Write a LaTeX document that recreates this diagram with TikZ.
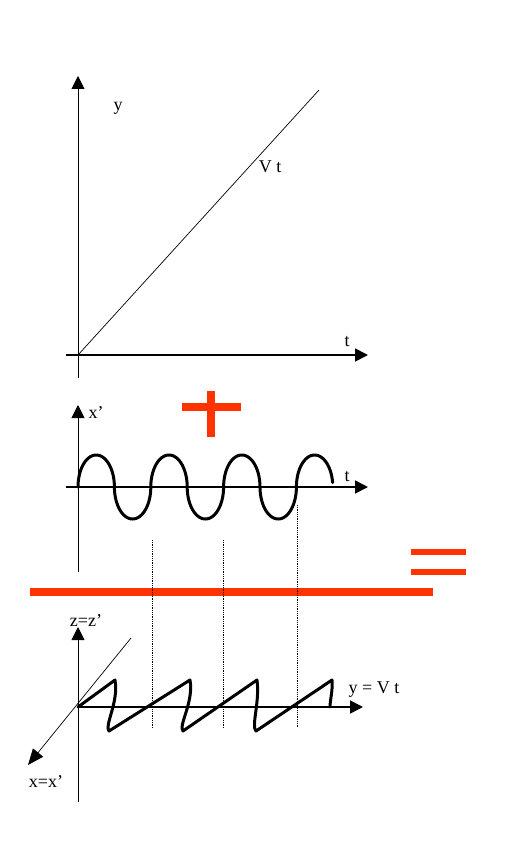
\documentclass[tikz,border=0pt]{standalone}
\usepackage{fontspec}
\setmainfont{Liberation Serif}
\usetikzlibrary{arrows.meta}
\definecolor{signred}{RGB}{255,51,0}

\begin{document}
\begin{tikzpicture}[x=1pt, y=-1pt,
  axis/.style={line width=1.8pt, -{Triangle[length=13pt, width=13pt]}},
  vaxis/.style={line width=0.9pt, -{Triangle[length=13pt, width=13pt]}},
  lbl/.style={font=\fontsize{18}{20}\selectfont, inner sep=0pt},
  wave/.style={line width=3pt, line cap=round, line join=round},
  signbar/.style={signred, line width=8pt}]
  \useasboundingbox[fill=white] (0,0) rectangle (508,848);

  % Top graph: y = V t
  \coordinate (O1) at (78,355);
  \draw[axis] (66,355) -- (368,355);
  \draw[vaxis] (78,378) -- (78,76);
  \draw[line width=0.7pt] (O1) -- (319,90);
  \node[lbl] (ylab) at (118,108) {y};
  \node[lbl] (vtlab) at (270,167) {V t};
  \node[lbl] (tlab1) at (347,342) {t};

  % Plus sign
  \draw[signbar] (182,407) -- (241,407);
  \draw[signbar] (211,391) -- (211,437);

  % Middle graph: x' oscillation
  \coordinate (O2) at (78,487);
  \draw[axis] (66,487) -- (368,487);
  \draw[vaxis] (78,572) -- (78,405);
  \node[lbl] (xplab) at (96,413) {x’};
  \node[lbl] (tlab2) at (347,477) {t};
  \foreach \k/\e in {0/180, 1/180, 2/180, 3/180, 4/180, 5/180, 6/172} {
    \draw[wave] plot[domain=0:\e, samples=45, smooth]
      ({78+36.4*\k+18.2*(1-cos(\x))}, {487-32*sin(\x+180*\k)});
  }

  % Equals sign and dividing bar
  \foreach \y in {552,572} {
    \draw[signred, line width=6pt] (411,\y) -- (466,\y);
  }
  \draw[signbar] (30,592) -- (433,592);

  % Guide lines
  \foreach \x/\ytop in {152/540, 223/540, 297/505} {
    \draw[densely dotted, line width=0.8pt] (\x,\ytop) -- (\x,728);
  }

  % Bottom graph: resulting path
  \coordinate (O3) at (78,707);
  \draw[axis] (O3) -- (363,707);
  \draw[vaxis] (78,802) -- (78,627);
  \draw[line width=0.7pt, -{Triangle[length=16pt, width=13pt]}] (131,638) -- (28,765);
  \node[lbl] (zlab) at (86,621) {z=z’};
  \node[lbl] (yvtlab) at (374,690) {y = V t};
  \node[lbl] (xlab) at (46,782) {x=x’};
  \draw[wave] (O3) -- (115,680)
    .. controls (119,702) and (104,726) .. (109,731)
    -- (190,680)
    .. controls (194,702) and (178,726) .. (183,731)
    -- (257,680)
    .. controls (260,702) and (251,726) .. (256,731)
    -- (332,680)
    .. controls (333,690) and (330,700) .. (330,707);
\end{tikzpicture}
\end{document}
